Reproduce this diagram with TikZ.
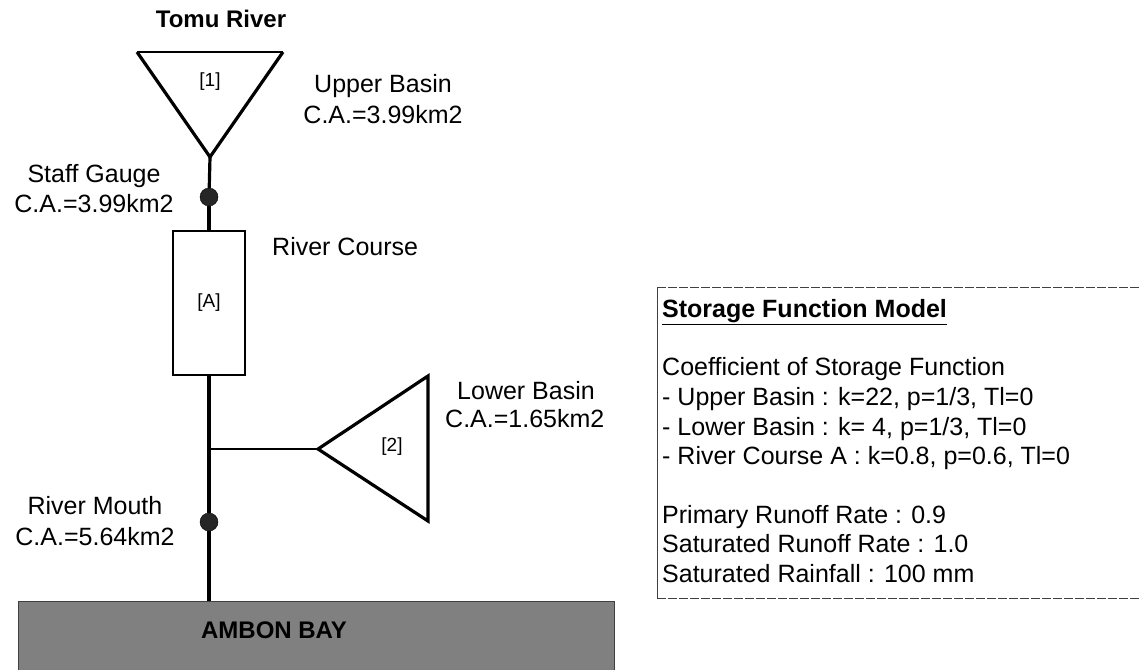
\documentclass[tikz,border=0pt]{standalone}
\usepackage{fontspec}
\setmainfont{Liberation Sans}
\begin{document}
\begin{tikzpicture}[x=1pt,y=-1pt,
  lbl/.style={font=\fontsize{25}{25}\selectfont, inner sep=0pt, anchor=base},
  lblw/.style={font=\fontsize{25}{25}\selectfont, inner sep=0pt, anchor=base west},
  tag/.style={font=\fontsize{19}{19}\selectfont, inner sep=0pt},
  main/.style={line width=3.2pt},
  thinline/.style={line width=1.6pt},
  gauge/.style={circle, fill=black!85, draw=black, minimum size=18pt, inner sep=0pt},
  boxline/.style={line width=1pt, black!75, dash pattern=on 9pt off 2pt}]
\useasboundingbox (0,0) rectangle (1139,669);

% ---- upper basin
\node[lbl, font=\fontsize{24}{24}\selectfont\bfseries] (title) at (221,28) {Tomu River};
\coordinate (t1L) at (137,52);
\coordinate (t1R) at (283,52);
\coordinate (t1B) at (210,157);
\draw[thinline] (t1L) -- (t1R);
\draw[main, line join=miter] (t1R) -- (t1B) -- (t1L);
\node[tag] (n1) at (210,82) {[1]};
\node[lbl] (ub1) at (383,92) {Upper Basin};
\node[lbl] (ub2) at (383,123) {C.A.=3.99km2};

% ---- staff gauge
\node[gauge] (g1) at (209,197) {};
\node[lbl] (sg1) at (94,182) {Staff Gauge};
\node[lbl] (sg2) at (94,212) {C.A.=3.99km2};

% ---- river course
\node[draw, line width=2.8pt, minimum width=72pt, minimum height=144pt, inner sep=0pt, tag] (A) at (209,303) {[A]};
\node[lblw] (rc) at (272,255) {River Course};

% ---- lower basin
\coordinate (jn) at (209,449);
\coordinate (t2L) at (318,449);
\coordinate (t2T) at (428,376);
\coordinate (t2B) at (428,521);
\draw[main, line join=miter] (t2L) -- (t2T) -- (t2B) -- cycle;
\node[tag] (n2) at (392,447) {[2]};
\node[lblw] (lb1) at (457,399) {Lower Basin};
\node[lblw] (lb2) at (445,427) {C.A.=1.65km2};

% ---- river mouth
\node[gauge] (g2) at (209,522) {};
\node[lbl] (rm1) at (95,514) {River Mouth};
\node[lbl] (rm2) at (95,545) {C.A.=5.64km2};

% ---- bay
\node[fill=black!50, draw=black!75, line width=1pt, minimum width=596pt, minimum height=70pt, inner sep=0pt, anchor=north west] (bay) at (18,601) {};
\node[font=\fontsize{24}{24}\selectfont\bfseries, inner sep=0pt] (bayt) at (274,630) {AMBON BAY};

% ---- connectors
\draw[main] (t1B) -- (g1);
\draw[main] (g1) -- (A.north -| g1);
\draw[main] (A.south -| jn) -- (jn) -- (g2);
\draw[main] (g2) -- (g2 |- bay.north);
\draw[thinline] (jn) -- (t2L);

% ---- model box
\coordinate (bxTL) at (657,287);
\coordinate (bxTR) at (1139,287);
\coordinate (bxBL) at (657,598);
\coordinate (bxBR) at (1139,598);
\draw[boxline] (bxTL) -- (bxTR);
\draw[boxline] (bxBL) -- (bxBR);
\draw[line width=1pt, black!75] (bxTL) -- (bxBL);
\node[lblw, font=\fontsize{25}{25}\selectfont\bfseries] (m0) at (662,317) {\underline{Storage Function Model}};
\node[lblw] (m1) at (662,375) {Coefficient of Storage Function};
\node[lblw] (m2) at (662,405) {- Upper Basin : k=22, p=1/3, Tl=0};
\node[lblw] (m3) at (662,435) {- Lower Basin : k= 4, p=1/3, Tl=0};
\node[lblw] (m4) at (662,464) {- River Course A : k=0.8, p=0.6, Tl=0};
\node[lblw] (m5) at (662,523) {Primary Runoff Rate : 0.9};
\node[lblw] (m6) at (662,552) {Saturated Runoff Rate : 1.0};
\node[lblw] (m7) at (662,582) {Saturated Rainfall : 100 mm};
\end{tikzpicture}
\end{document}
